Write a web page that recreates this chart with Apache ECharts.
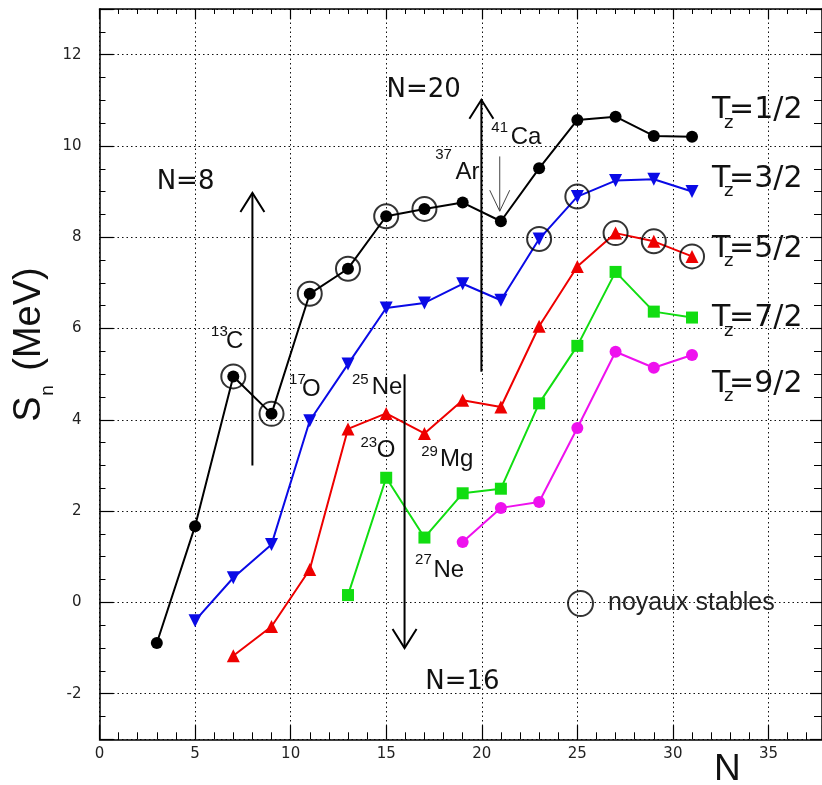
<!DOCTYPE html>
<html><head><meta charset="utf-8">
<script src="https://cdn.jsdelivr.net/npm/echarts@6/dist/echarts.min.js"></script>
<style>html,body{margin:0;padding:0;background:#fff}#c{width:822px;height:785px}</style>
</head><body><div id="c"></div>
<script>
// ---- data (neutron number N, separation energy S_n in MeV) ----
const N_tz12 = [3,5,7,9,11,13,15,17,19,21,23,25,27,29,31];
const S_tz12 = [-0.89,1.67,4.95,4.13,6.76,7.31,8.46,8.62,8.76,8.35,9.51,10.57,10.64,10.22,10.20];
const N_tz32 = [5,7,9,11,13,15,17,19,21,23,25,27,29,31];
const S_tz32 = [-0.40,0.54,1.27,3.98,5.22,6.45,6.56,6.98,6.62,7.96,8.89,9.24,9.27,9.00];
const N_tz52 = [7,9,11,13,15,17,19,21,23,25,27,29,31];
const S_tz52 = [-1.17,-0.53,0.72,3.80,4.14,3.70,4.43,4.28,6.05,7.36,8.09,7.91,7.58];
const N_tz72 = [13,15,17,19,21,23,25,27,29,31];
const S_tz72 = [0.16,2.73,1.42,2.39,2.49,4.36,5.62,7.24,6.37,6.24];
const N_tz92 = [19,21,23,25,27,29,31];
const S_tz92 = [1.32,2.07,2.20,3.82,5.49,5.14,5.42];
// stable nuclei (N values) per series
const stable_tz12 = [7,9,11,13,15,17];
const stable_tz32 = [23,25];
const stable_tz52 = [27,29,31];
// tick labels
const xTicks = [0,5,10,15,20,25,30,35];
const yTicks = [-2,0,2,4,6,8,10,12];
const seriesNames = ['T_z=1/2','T_z=3/2','T_z=5/2','T_z=7/2','T_z=9/2'];
const stableName = 'noyaux stables';

// ---- annotations (data coordinates) ----
const isoLabels = [
  {sup:'13', main:'C',  sx:5.84,  sy:5.92,  mx:6.62,  my:5.71},
  {sup:'17', main:'O',  sx:9.92,  sy:4.87,  mx:10.60, my:4.66},
  {sup:'25', main:'Ne', sx:13.21, sy:4.88,  mx:14.24, my:4.72},
  {sup:'23', main:'O',  sx:13.65, sy:3.50,  mx:14.50, my:3.33},
  {sup:'29', main:'Mg', sx:16.83, sy:3.30,  mx:17.82, my:3.13},
  {sup:'27', main:'Ne', sx:16.51, sy:0.93,  mx:17.47, my:0.71},
  {sup:'37', main:'Ar', sx:17.56, sy:9.81,  mx:18.63, my:9.42},
  {sup:'41', main:'Ca', sx:20.50, sy:10.39, mx:21.51, my:10.18}
];
const shellLabels = [
  {text:'N=8',  x:2.99,  y:9.20},
  {text:'N=20', x:15.02, y:11.23},
  {text:'N=16', x:17.04, y:-1.76}
];
const tzLabels = [
  {frac:'1/2', x:32.05, y:10.78},
  {frac:'3/2', x:32.05, y:9.28},
  {frac:'5/2', x:32.05, y:7.74},
  {frac:'7/2', x:32.05, y:6.22},
  {frac:'9/2', x:32.05, y:4.78}
];
const arrows = [
  {x:8,     from:3.0,  to:8.97,  thick:true},
  {x:19.98, from:5.05, to:11.01, thick:true},
  {x:15.96, from:5.0,  to:-1.0,  thick:true},
  {x:20.94, from:9.77, to:8.57,  thick:false}
];

const zip = (a,b) => a.map((v,i)=>[v,b[i]]);
const colors = ['#000000','#0a0ae6','#ee0000','#11dd11','#ee11ee'];
const symbols = ['circle','triangle','triangle','rect','circle'];
const rotates = [0,180,0,0,0];
const sizes = [12,13,13,12,12];
const Ns = [N_tz12,N_tz32,N_tz52,N_tz72,N_tz92];
const Ss = [S_tz12,S_tz32,S_tz52,S_tz72,S_tz92];

const lineSeries = Ns.map((n,i)=>({
  type:'line', name:seriesNames[i], data:zip(n,Ss[i]),
  symbol:symbols[i], symbolSize:sizes[i], symbolRotate:rotates[i],
  lineStyle:{color:colors[i], width:2}, itemStyle:{color:colors[i]},
  z:2, silent:true, animation:false
}));
function stablePts(list, n, s){ return list.map(v=>[v, s[n.indexOf(v)]]); }
const stableData = [].concat(
  stablePts(stable_tz12,N_tz12,S_tz12),
  stablePts(stable_tz32,N_tz32,S_tz32),
  stablePts(stable_tz52,N_tz52,S_tz52));

const gridLine = {show:true, lineStyle:{color:'#111', type:[1.5,3], width:1}};
const axLine = {show:true, onZero:false, lineStyle:{color:'#000', width:1.5}};
const lbl = {fontFamily:'DejaVu Sans', fontSize:15, color:'#222'};

const chart = echarts.init(document.getElementById('c'), null, {renderer:'canvas'});
chart.setOption({
  animation:false,
  backgroundColor:'#fff',
  grid:{left:99.5, top:9, width:726, height:730.3, containLabel:false},
  legend:{
    data:[{name:stableName, icon:'circle', itemStyle:{color:'rgba(0,0,0,0)', borderColor:'#000', borderWidth:2}}],
    left:567, top:590, itemWidth:25, itemHeight:25, padding:0, selectedMode:false,
    textStyle:{fontFamily:'Liberation Sans', fontSize:25, color:'#222', padding:[0,0,0,10]}
  },
  xAxis:[
    {type:'value', min:0, max:37.8, interval:5, position:'bottom',
     axisLine:axLine,
     axisTick:{show:true, inside:true, length:14, lineStyle:{color:'#000', width:1.2}},
     minorTick:{show:true, splitNumber:5, length:7, lineStyle:{color:'#000', width:1}},
     axisLabel:Object.assign({margin:7, showMaxLabel:false, formatter:v=>xTicks.includes(v)?String(v):''}, lbl),
     splitLine:gridLine},
    {type:'value', min:0, max:37.8, interval:5, position:'top',
     axisLine:axLine,
     axisTick:{show:true, inside:true, length:10, lineStyle:{color:'#000', width:1.2}},
     minorTick:{show:true, splitNumber:5, length:5, lineStyle:{color:'#000', width:1}},
     axisLabel:{show:false}, splitLine:{show:false}}
  ],
  yAxis:[
    {type:'value', min:-3, max:13, splitNumber:8, minInterval:2, maxInterval:2, position:'left',
     axisLine:axLine,
     axisTick:{show:true, inside:true, length:14, lineStyle:{color:'#000', width:1.2}},
     minorTick:{show:true, splitNumber:4, length:6, lineStyle:{color:'#000', width:1}},
     axisLabel:Object.assign({margin:18, showMinLabel:false, showMaxLabel:false, formatter:v=>yTicks.includes(v)?String(v):''}, lbl),
     splitLine:gridLine},
    {type:'value', min:-3, max:13, splitNumber:8, minInterval:2, maxInterval:2, position:'right',
     axisLine:axLine,
     axisTick:{show:true, inside:true, length:12, lineStyle:{color:'#000', width:1.2}},
     minorTick:{show:true, splitNumber:4, length:8, lineStyle:{color:'#000', width:1}},
     axisLabel:{show:false}, splitLine:{show:false}}
  ],
  series: lineSeries.concat([{
    type:'scatter', name:stableName, data:stableData, symbol:'circle', symbolSize:24,
    itemStyle:{color:'rgba(0,0,0,0)', borderColor:'#000', borderWidth:2},
    z:3, silent:true, animation:false
  }])
});

const px = (x,y) => chart.convertToPixel({xAxisIndex:0, yAxisIndex:0}, [x,y]);
const g = [];
function txt(x,y,text,fs,fam,extra){
  g.push(Object.assign({type:'text', x:x, y:y, z:100, silent:true,
    style:{text:text, fill:'#111', fontSize:fs, fontFamily:fam, align:'left', verticalAlign:'middle'}}, extra||{}));
}
isoLabels.forEach(l=>{
  const a = px(l.sx,l.sy), b = px(l.mx,l.my);
  txt(a[0],a[1],l.sup,15,'Liberation Sans');
  txt(b[0],b[1],l.main,24,'Liberation Sans');
});
shellLabels.forEach(l=>{ const p = px(l.x,l.y); txt(p[0],p[1],l.text,26,'DejaVu Sans'); });
tzLabels.forEach(l=>{
  const p = px(l.x,l.y);
  txt(p[0],p[1],'T',30,'DejaVu Sans');
  txt(p[0]+12,p[1]+12.5,'z',18,'DejaVu Sans');
  txt(p[0]+17,p[1],'='+l.frac,30,'DejaVu Sans');
});
arrows.forEach(a=>{
  const p0 = px(a.x,a.from), p1 = px(a.x,a.to);
  const dir = p1[1] < p0[1] ? 1 : -1;
  const w = a.thick ? 2 : 1, col = a.thick ? '#000' : '#444';
  const dx = a.thick ? 12 : 10, dy = a.thick ? 19 : 21;
  g.push({type:'line', z:100, silent:true, shape:{x1:p0[0], y1:p0[1], x2:p1[0], y2:p1[1]}, style:{stroke:col, lineWidth:w}});
  g.push({type:'polyline', z:100, silent:true, shape:{points:[[p1[0]-dx,p1[1]+dir*dy],[p1[0],p1[1]],[p1[0]+dx,p1[1]+dir*dy]]}, style:{stroke:col, lineWidth:w, fill:null}});
});
// axis titles
g.push({type:'group', x:43.3, y:421.7, rotation:Math.PI/2, z:100, silent:true, children:[
  {type:'text', x:0, y:-13.7, style:{text:'S', fill:'#111', fontSize:38, fontFamily:'Liberation Sans', align:'left', verticalAlign:'middle'}},
  {type:'text', x:26, y:4, style:{text:'n', fill:'#111', fontSize:19, fontFamily:'Liberation Sans', align:'left', verticalAlign:'middle'}},
  {type:'text', x:51, y:-13.7, style:{text:'(MeV)', fill:'#111', fontSize:38, fontFamily:'Liberation Sans', align:'left', verticalAlign:'middle'}}
]});
txt(714,770,'N',37,'Liberation Sans');
chart.setOption({graphic:g});
</script>
</body></html>
